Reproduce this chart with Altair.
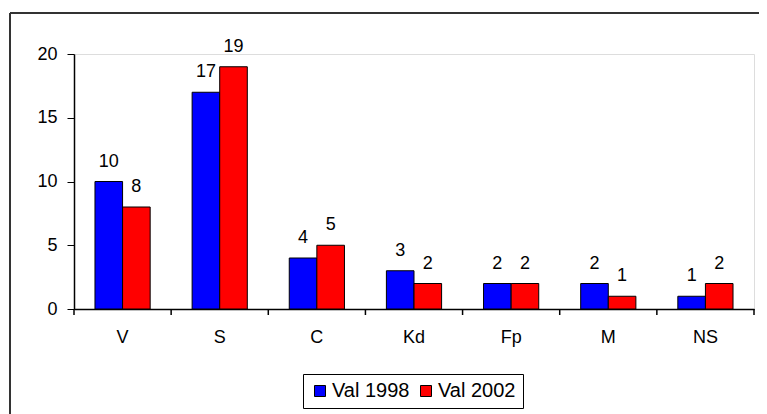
import altair as alt
import pandas as pd

categories = ["V", "S", "C", "Kd", "Fp", "M", "NS"]
val_1998 = [10, 17, 4, 3, 2, 2, 1]
val_2002 = [8, 19, 5, 2, 2, 1, 2]
series_names = ["Val 1998", "Val 2002"]
y_ticks = [0, 5, 10, 15, 20]

rows = []
for c, a, b in zip(categories, val_1998, val_2002):
    rows.append({"cat": c, "series": series_names[0], "value": a})
    rows.append({"cat": c, "series": series_names[1], "value": b})
df = pd.DataFrame(rows)

FONT = "Liberation Sans"
FS = 18
W, H = 680, 255

xscale = alt.Scale(domain=categories, paddingInner=0, paddingOuter=0)
offscale = alt.Scale(domain=series_names, paddingInner=0, paddingOuter=0.76)
color = alt.Color(
    "series:N",
    scale=alt.Scale(domain=series_names, range=["#0000FF", "#FF0000"]),
    legend=alt.Legend(
        title=None,
        orient="none",
        legendX=229,
        legendY=320,
        direction="horizontal",
        symbolType="square",
        symbolSize=121,
        symbolStrokeColor="black",
        symbolStrokeWidth=1,
        labelFont=FONT,
        labelFontSize=20,
        labelColor="black",
        strokeColor="black",
        fillColor="white",
        padding=7,
        columnPadding=6,
        symbolOffset=0,
        labelOffset=2,
    ),
)

base = alt.Chart(df)

bars = base.mark_bar(stroke="black", strokeWidth=1).encode(
    x=alt.X(
        "cat:N",
        scale=xscale,
        sort=categories,
        axis=alt.Axis(
            title=None,
            labelAngle=0,
            ticks=False,
            labelPadding=19,
            labelFont=FONT,
            labelFontSize=FS,
            labelColor="black",
            domainColor="black",
            domainWidth=1.5,
        ),
    ),
    xOffset=alt.XOffset("series:N", scale=offscale, sort=series_names),
    y=alt.Y(
        "value:Q",
        scale=alt.Scale(domain=[0, 20], nice=False),
        axis=alt.Axis(
            title=None,
            values=y_ticks,
            grid=False,
            tickSize=7,
            tickColor="black",
            labelPadding=10,
            labelFont=FONT,
            labelFontSize=FS,
            labelColor="black",
            domainColor="black",
            domainWidth=1.5,
        ),
    ),
    color=color,
)

labels = base.mark_text(
    baseline="alphabetic", dy=-15, font=FONT, fontSize=FS, color="black"
).encode(
    x=alt.X("cat:N", scale=xscale, sort=categories),
    xOffset=alt.XOffset("series:N", scale=offscale, sort=series_names),
    y=alt.Y("value:Q"),
    text=alt.Text("value:Q"),
)

tick_df = pd.DataFrame({"cat": categories})
xticks = alt.Chart(tick_df).mark_rule(color="black", strokeWidth=1.5).encode(
    x=alt.X("cat:N", scale=xscale, sort=categories, bandPosition=0),
    y=alt.value(H),
    y2=alt.value(H + 6),
)
end_tick = alt.Chart(tick_df.head(1)).mark_rule(color="black", strokeWidth=1.5).encode(
    x=alt.value(W),
    y=alt.value(H),
    y2=alt.value(H + 6),
)

# outer chart-area frame (Excel chart border)
frame_v = alt.Chart(tick_df.head(1)).mark_rule(color="#333333", strokeWidth=2).encode(
    x=alt.value(-64), y=alt.value(-41), y2=alt.value(H + 120)
)
frame_h = alt.Chart(tick_df.head(1)).mark_rule(color="#333333", strokeWidth=2).encode(
    x=alt.value(-64), x2=alt.value(W + 40), y=alt.value(-41)
)

chart = (
    alt.layer(frame_v, frame_h, bars, labels, xticks, end_tick)
    .properties(
        width=W,
        height=H,
        autosize=alt.AutoSizeParams(type="none"),
        padding={"left": 66, "top": 46, "right": 5, "bottom": 110},
    )
    .configure_view(stroke="#999999", strokeWidth=2)
    .configure(background="white")
)

chart.save("out.html", embed_options={"renderer": "svg", "actions": False})
